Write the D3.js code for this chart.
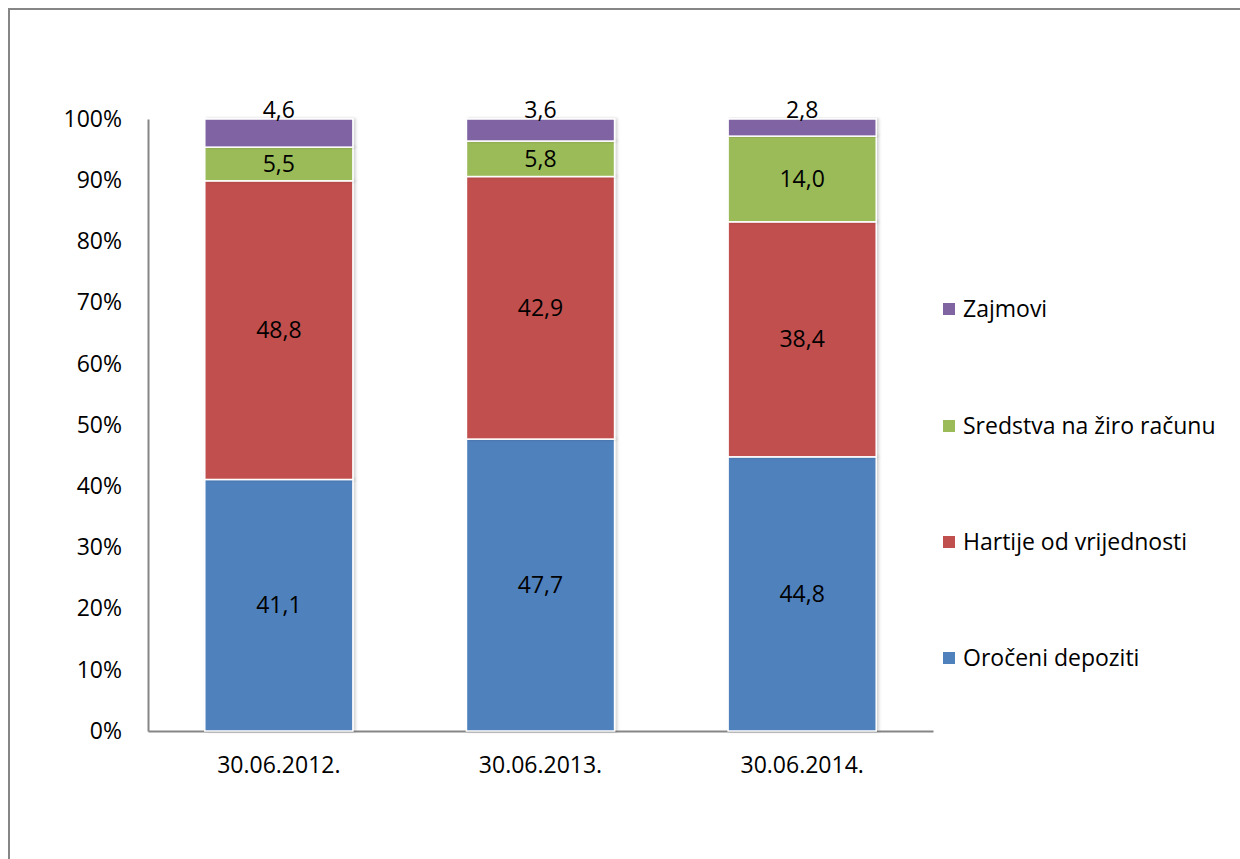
<!doctype html>
<html lang="sr">
<head>
  <meta charset="utf-8">
  <title>Struktura ulaganja</title>
  <script src="https://d3js.org/d3.v7.min.js"></script>
  <style>
    body { margin: 0; background: #fff; }
    svg text { font-family: "Open Sans", sans-serif; font-size: 23px; fill: #000; }
  </style>
</head>
<body>
<svg id="chart" width="1240" height="859"></svg>
<script>

  // data (percent shares)
  var dates = ["30.06.2012.", "30.06.2013.", "30.06.2014."];
  var series = ["Oročeni depoziti", "Hartije od vrijednosti", "Sredstva na žiro računu", "Zajmovi"];
  var orocDepoziti = [41.1, 47.7, 44.8];
  var hartije = [48.8, 42.9, 38.4];
  var ziroRacun = [5.5, 5.8, 14.0];
  var zajmovi = [4.6, 3.6, 2.8];
  var yTicks = [0, 10, 20, 30, 40, 50, 60, 70, 80, 90, 100];
  var colors = ["#4f81bd", "#c0504d", "#9bbb59", "#8064a2"];

  var svg = d3.select("#chart");

  // outer chart frame (runs off the right and bottom edge)
  svg.append("rect")
     .attr("x", 9).attr("y", 9)
     .attr("width", 1260).attr("height", 880)
     .attr("fill", "none")
     .attr("stroke", "#868686")
     .attr("stroke-width", 2);

  var plotLeft = 148, plotRight = 933, plotTop = 119, plotBottom = 731;

  var x = d3.scaleBand()
            .domain(dates)
            .range([plotLeft, plotRight])
            .paddingInner(0.434)
            .paddingOuter(0.217);

  var y = d3.scaleLinear()
            .domain([0, 100])
            .range([plotBottom, plotTop]);

  var rows = dates.map(function(d, i) {
    return {
      date: d,
      "Oročeni depoziti": orocDepoziti[i],
      "Hartije od vrijednosti": hartije[i],
      "Sredstva na žiro računu": ziroRacun[i],
      "Zajmovi": zajmovi[i]
    };
  });

  var stacked = d3.stack().keys(series)(rows);

  var defs = svg.append("defs");
  var shadow = defs.append("filter").attr("id", "shadow")
      .attr("x", "-10%").attr("y", "-10%").attr("width", "120%").attr("height", "120%");
  shadow.append("feDropShadow")
      .attr("dx", 2).attr("dy", 0).attr("stdDeviation", 1.5)
      .attr("flood-color", "#000").attr("flood-opacity", 0.18);

  // axes
  var yAxis = d3.axisLeft(y)
      .tickValues(yTicks)
      .tickSize(0)
      .tickPadding(26)
      .tickFormat(function(d) { return d + "%"; });

  var gy = svg.append("g").attr("transform", "translate(" + plotLeft + ",0)").call(yAxis);
  gy.select(".domain").attr("stroke", "#868686").attr("stroke-width", 2);
  gy.selectAll("text").attr("font-family", null).attr("font-size", null);

  var xAxis = d3.axisBottom(x).tickSize(0).tickPadding(26);
  var gx = svg.append("g").attr("transform", "translate(0," + plotBottom + ")").call(xAxis);
  gx.select(".domain").attr("stroke", "#868686").attr("stroke-width", 2);
  gx.selectAll("text").attr("font-family", null).attr("font-size", null);
  svg.selectAll(".tick text").attr("fill", "#000");

  var layer = svg.selectAll(".layer")
      .data(stacked)
      .enter().append("g")
      .attr("class", "layer")
      .attr("fill", function(d, i) { return colors[i]; });

  layer.selectAll("rect")
      .data(function(d) { return d; })
      .enter().append("rect")
      .attr("x", function(d) { return x(d.data.date); })
      .attr("y", function(d) { return y(d[1]); })
      .attr("width", x.bandwidth())
      .attr("height", function(d) { return y(d[0]) - y(d[1]); })
      .attr("stroke", "#fff")
      .attr("stroke-width", 1.5)
      .attr("filter", "url(#shadow)");

  // data labels
  var fmt = function(v) { return v.toFixed(1).replace(".", ","); };

  layer.each(function(s, si) {
    d3.select(this).selectAll("text.lbl")
      .data(s)
      .enter().append("text")
      .attr("class", "lbl")
      .attr("text-anchor", "middle")
      .attr("x", function(d) { return x(d.data.date) + x.bandwidth() / 2; })
      .attr("y", function(d) {
        if (si === series.length - 1) return y(100) - 9;
        return (y(d[0]) + y(d[1])) / 2;
      })
      .attr("dy", "0.35em")
      .text(function(d) { return fmt(d[1] - d[0]); });
  });

  // legend, top series first
  var legend = svg.append("g");
  var legendY = [309, 426, 542, 658];
  series.slice().reverse().forEach(function(name, i) {
    var ci = series.length - 1 - i;
    var g = legend.append("g").attr("transform", "translate(943," + legendY[i] + ")");
    g.append("rect")
     .attr("x", 0).attr("y", -6)
     .attr("width", 12).attr("height", 12)
     .attr("fill", colors[ci]);
    g.append("text")
     .attr("x", 20).attr("dy", "0.35em")
     .text(name);
  });

</script>
</body>
</html>
